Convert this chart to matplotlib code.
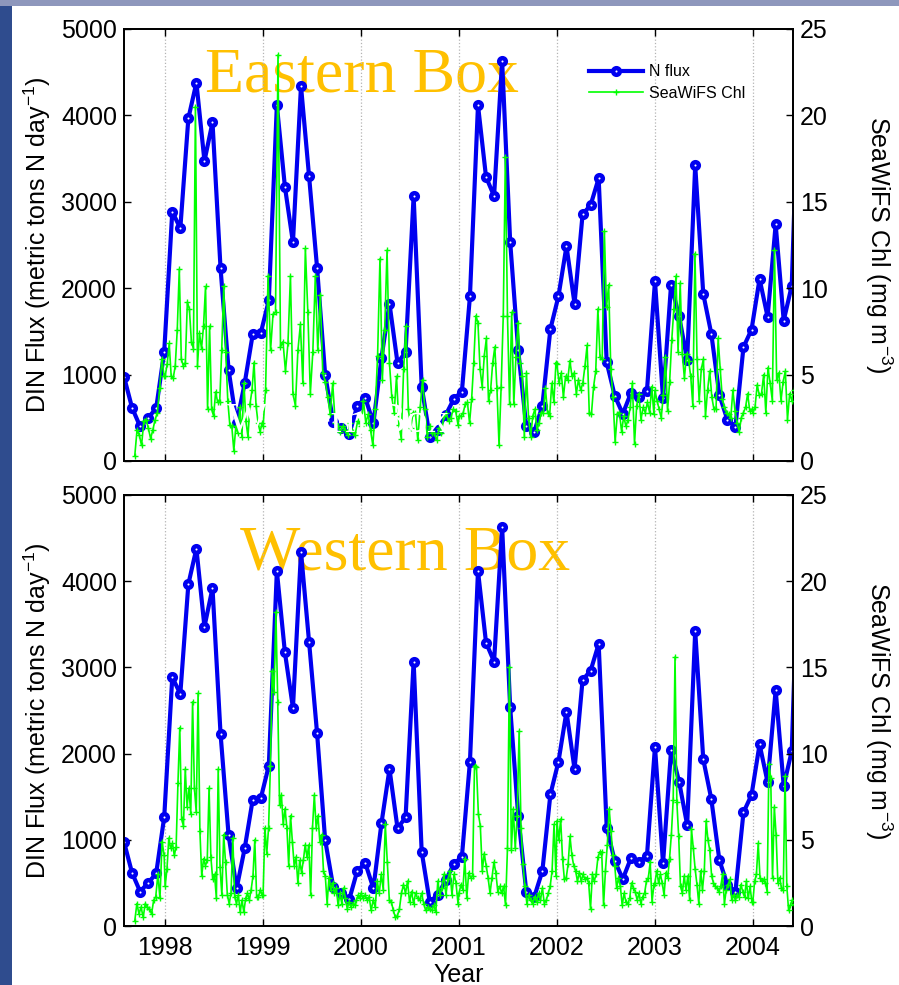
import numpy as np
import matplotlib
matplotlib.use("Agg")
import matplotlib.pyplot as plt
from matplotlib.patches import Rectangle
from matplotlib.lines import Line2D

plt.rcParams['font.family'] = ['Liberation Sans', 'DejaVu Sans']
plt.rcParams['mathtext.fontset'] = 'custom'
plt.rcParams['mathtext.rm'] = 'Liberation Sans'
plt.rcParams['mathtext.it'] = 'Liberation Sans:italic'
plt.rcParams['mathtext.bf'] = 'Liberation Sans:bold'

# ---------------- data ----------------
# Monthly-ish (30-day) DIN flux, metric tons N / day, starting Aug 1997
nflux_start = 1997.58
nflux_step_days = 30.0
nflux = [975, 617, 400, 500, 610, 1265, 2886, 2693, 3966, 4379, 3472, 3920,
         2230, 1053, 437, 900, 1467, 1481, 1860, 4118, 3175, 2530, 4340, 3300,
         2236, 1000, 456, 379, 309, 642, 727, 437, 1191, 1821, 1133, 1261,
         3067, 862, 282, 360, 534, 719, 804, 1906, 4118, 3287, 3067, 4633,
         2537, 1280, 400, 340, 638, 1527, 1906, 2487, 1821, 2854, 2962, 3272,
         1141, 754, 545, 785, 746, 812, 2080, 727, 2042, 1674, 1172, 3422,
         1934, 1473, 766, 476, 398, 1319, 1520, 2108, 1667, 2738, 1625, 2030,
         4900]

# SeaWiFS chlorophyll (mg m-3), Eastern box, by year
east_1997 = [0.3, 1.8, 1.5, 0.9, 2.3, 2.4, 1.9, 1.3, 1.8, 2.4, 2.8, 4.2, 5.9, 4.9]
east_1998 = [4.9, 5.6, 6.8, 4.9, 4.8, 5.5, 7.6, 11.1, 5.9, 5.5, 5.7, 9.2, 8.8, 6.9,
             6.5, 20.5, 5.5, 7.4, 6.5, 7.8, 10.1, 3.0, 7.8, 3.0, 2.6, 4.0, 3.4, 3.4,
             6.4, 10.1, 6.3, 3.5, 2.1, 2.0, 0.6, 2.0, 1.6, 3.1, 1.4, 4.5, 2.3, 1.4,
             3.3, 4.1, 5.7, 3.2, 2.2, 1.7, 2.2]
east_1999 = [2.0, 4.1, 10.7, 6.4, 8.5, 8.6, 23.5, 6.6, 6.9, 5.2, 6.8, 10.7, 3.9, 3.2,
             6.4, 7.9, 4.5, 12.3, 8.6, 3.9, 6.3, 10.7, 6.4, 9.6, 5.1, 4.6, 3.7, 2.7,
             4.5, 2.2, 2.0, 1.7, 2.0, 1.8, 1.5, 2.2, 1.7, 1.5, 2.3, 2.2]
east_2000 = [2.0, 3.5, 2.2, 2.7, 1.8, 0.9, 3.0, 6.1, 11.7, 4.7, 7.6, 12.2, 5.7, 3.7,
             2.8, 4.9, 2.1, 1.3, 5.3, 7.8, 3.0, 1.9, 2.8, 2.8, 1.2, 3.1, 4.7, 3.0,
             1.4, 2.0, 1.6, 1.6, 1.2, 1.9, 1.6, 2.6, 2.8, 2.3, 2.5, 3.0, 2.9, 2.1]
east_2001 = [2.6, 2.6, 2.8, 3.3, 3.4, 2.2, 3.6, 5.7, 8.4, 8.0, 5.3, 4.3, 6.1, 7.1,
             3.5, 4.1, 5.7, 6.6, 4.2, 0.9, 4.3, 8.4, 17.6, 8.4, 3.3, 8.6, 3.3, 6.0,
             8.0, 5.7, 4.9, 1.4, 5.1, 2.5, 1.4, 2.6, 3.0, 1.8, 2.2, 2.8, 2.8, 4.2,
             2.8, 2.6, 4.5, 3.4, 5.7]
east_2002 = [5.6, 4.5, 5.1, 3.7, 4.9, 4.7, 5.8, 4.9, 5.1, 3.9, 4.7, 4.1, 4.5, 5.5,
             6.7, 2.8, 2.7, 4.3, 5.2, 8.8, 6.0, 5.9, 13.3, 8.9, 10.2, 5.3, 3.7, 1.1,
             2.7, 2.8, 1.7, 2.6, 2.0, 2.4, 3.1, 4.5, 1.0, 3.2, 3.9, 2.4, 3.1, 2.8,
             3.4, 2.8, 4.3, 2.7]
east_2003 = [4.1, 3.5, 3.0, 2.5, 3.8, 6.0, 2.9, 4.6, 7.0, 8.8, 10.7, 6.3, 10.3, 6.2,
             4.8, 6.2, 5.8, 4.9, 3.2, 12.0, 5.9, 3.5, 5.3, 5.9, 2.6, 4.1, 5.2, 3.7,
             3.0, 3.0, 7.1, 5.3, 3.6, 3.1, 2.8, 2.7, 2.5, 4.1, 2.9, 2.2, 1.7, 2.5,
             2.8, 3.1, 3.9, 2.9, 3.0]
east_2004 = [2.8, 3.1, 4.4, 3.8, 3.9, 5.0, 2.8, 5.4, 4.5, 3.5, 12.2, 4.7, 5.1, 3.5,
             4.6, 5.2, 2.4, 3.9, 3.5, 4.1]

# SeaWiFS chlorophyll (mg m-3), Western box, by year
west_1997 = [0.3, 1.3, 0.7, 1.1, 0.5, 1.3, 1.1, 1.0, 0.7, 1.5, 1.7, 3.0, 1.6, 4.9, 4.1]
west_1998 = [2.3, 3.3, 5.1, 4.5, 4.8, 4.1, 4.6, 8.3, 11.5, 6.2, 5.8, 9.1, 6.9, 8.0,
             6.5, 13.0, 8.0, 6.6, 13.5, 5.5, 2.9, 3.9, 3.5, 3.8, 8.0, 4.0, 2.7, 3.0,
             1.6, 9.1, 3.4, 1.8, 5.3, 3.7, 1.8, 1.3, 1.9, 5.1, 1.7, 1.3, 1.8, 0.8,
             1.5, 0.8, 1.6, 1.9, 1.5, 2.1, 2.9, 5.0, 1.7, 1.7, 2.1, 1.8]
west_1999 = [1.8, 5.7, 4.2, 5.7, 9.3, 14.8, 13.6, 18.2, 13.0, 7.0, 7.6, 5.9, 6.8, 5.7,
             3.5, 6.4, 4.9, 3.5, 4.0, 2.5, 3.8, 3.1, 3.8, 4.7, 4.0, 4.7, 1.8, 5.7,
             7.6, 5.7, 6.4, 4.9, 5.3, 3.2, 2.9, 1.3, 2.8, 2.1, 2.5, 1.9, 2.2, 1.2,
             1.9, 1.3, 2.2, 1.6, 1.0, 1.4, 1.1, 1.3, 1.2, 1.5, 1.8, 1.6]
west_2000 = [1.9, 1.6, 1.8, 1.5, 1.7, 0.9, 1.5, 1.1, 2.6, 1.9, 3.0, 2.1, 5.9, 3.7,
             1.5, 1.4, 0.9, 0.5, 0.6, 1.0, 1.9, 2.4, 1.9, 2.6, 1.4, 2.0, 1.3, 1.9,
             1.6, 1.5, 1.9, 1.3, 0.9, 1.1, 1.0, 0.9, 1.2, 0.8, 2.6, 1.8, 2.2, 3.0,
             1.8, 2.7, 3.2, 1.8, 3.0, 2.5, 1.3]
west_2001 = [1.9, 2.4, 2.1, 3.9, 1.6, 3.1, 2.8, 2.9, 9.3, 9.2, 6.5, 5.8, 3.2, 4.2,
             3.5, 2.8, 1.9, 2.8, 3.7, 3.1, 2.0, 2.3, 1.9, 2.3, 1.2, 4.5, 15.0, 4.4,
             6.8, 4.5, 6.4, 11.3, 5.7, 3.6, 2.3, 1.3, 1.8, 1.5, 1.3, 1.7, 1.4, 1.9,
             1.5, 2.2, 1.3, 1.5, 1.9, 2.3, 3.2, 5.9, 2.9]
west_2002 = [6.1, 5.0, 6.2, 3.9, 2.7, 2.8, 3.6, 5.2, 4.1, 3.5, 3.2, 2.6, 3.1, 2.6,
             3.0, 2.7, 2.8, 2.5, 1.0, 3.0, 2.6, 3.0, 4.0, 4.3, 4.3, 1.2, 3.2, 4.7,
             6.8, 5.5, 4.1, 3.5, 2.2, 2.8, 2.3, 1.2, 1.9, 1.4, 1.3, 1.6, 2.5, 2.2,
             2.0, 1.5, 1.9, 1.3, 1.7, 1.9, 2.6, 2.8, 3.7, 1.4, 2.4]
west_2003 = [2.5, 3.2, 2.5, 3.0, 2.5, 1.8, 3.1, 2.8, 3.9, 5.3, 7.3, 15.6, 7.2, 5.2,
             2.3, 1.9, 2.9, 2.1, 2.9, 1.5, 5.6, 4.5, 3.3, 2.4, 1.3, 3.2, 2.1, 3.2,
             6.1, 5.0, 4.4, 2.9, 2.5, 2.3, 2.2, 2.0, 2.3, 3.0, 1.3, 2.1, 2.4, 2.7,
             1.5, 1.8, 1.5, 1.8, 1.7, 2.4, 2.0, 1.7, 2.6, 1.6, 2.3, 1.4]
west_2004 = [1.4, 2.6, 3.0, 4.8, 2.8, 2.6, 2.7, 2.5, 2.0, 9.4, 8.6, 2.8, 6.9, 5.3,
             2.5, 2.8, 2.2, 2.1, 8.7, 2.3, 0.9, 1.2, 1.5, 1.3]

# time span covered by each yearly chlorophyll list (decimal years)
chl_spans = [(1997.69, 1997.99), (1998.0, 1998.99), (1999.0, 1999.99),
             (2000.0, 2000.99), (2001.0, 2001.99), (2002.0, 2002.99),
             (2003.0, 2003.99), (2004.0, 2004.42)]

year_ticks = [1998, 1999, 2000, 2001, 2002, 2003, 2004]
flux_ticks = [0, 1000, 2000, 3000, 4000, 5000]
chl_ticks = [0, 5, 10, 15, 20, 25]
panel_titles = ["Eastern Box", "Western Box"]


def chl_series(lists):
    t, v = [], []
    for (a, b), vals in zip(chl_spans, lists):
        t.extend(np.linspace(a, b, len(vals)))
        v.extend(vals)
    return np.array(t), np.array(v)


east = chl_series([east_1997, east_1998, east_1999, east_2000, east_2001,
                   east_2002, east_2003, east_2004])
west = chl_series([west_1997, west_1998, west_1999, west_2000, west_2001,
                   west_2002, west_2003, west_2004])
t_flux = nflux_start + np.arange(len(nflux)) * nflux_step_days / 365.25

# ---------------- figure ----------------
W, H = 899, 985
fig = plt.figure(figsize=(W / 100, H / 100), dpi=100)
fig.patch.set_facecolor('#2F4C8E')
fig.patches.append(Rectangle((0, 1 - 6 / H), 1, 6 / H, transform=fig.transFigure,
                             facecolor='#8E97BC', edgecolor='none', zorder=-10))
fig.patches.append(Rectangle((12 / W, 0), 1 - 12 / W, 1 - 6 / H, transform=fig.transFigure,
                             facecolor='white', edgecolor='none', zorder=-9))

BLUE = '#0000F0'
GREEN = '#00FF00'
FS = 18
MK = dict(marker='o', ms=4.8, mew=3.2, mfc='white', mec=BLUE)

panels = [
    dict(box=(124, 29, 793, 461), chl=east, title=panel_titles[0],
         tpos=((205 - 124) / 669, (461 - 92) / 432), xlabels=False),
    dict(box=(124, 495, 793, 926), chl=west, title=panel_titles[1],
         tpos=((240 - 124) / 669, (926 - 570) / 431), xlabels=True),
]

for i, p in enumerate(panels):
    x0, y0, x1, y1 = p['box']
    ax = fig.add_axes([x0 / W, 1 - y1 / H, (x1 - x0) / W, (y1 - y0) / H])
    ax.set_facecolor('none')
    ax.plot(t_flux, nflux, color=BLUE, lw=3.0, zorder=3, label='N flux', **MK)
    ax.set_xlim(1997.58, 2004.41)
    ax.set_ylim(0, 5000)
    ax.set_yticks(flux_ticks)
    ax.set_xticks(year_ticks)
    ax.grid(axis='x', linestyle=':', color='#B4B4B4', linewidth=0.9, zorder=0)
    ax.tick_params(axis='both', direction='in', length=5, width=1.0,
                   labelsize=FS, top=True, right=False, pad=5)
    ax.tick_params(axis='x', pad=7)
    if p['xlabels']:
        ax.set_xticklabels([str(y) for y in year_ticks])
        ax.set_xlabel('Year', fontsize=FS, labelpad=2)
    else:
        ax.set_xticklabels([])
    ax.set_ylabel(r'DIN Flux (metric tons N day$^{-1}$)', fontsize=FS, labelpad=6)
    for s in ax.spines.values():
        s.set_linewidth(1.3)

    ax.text(p['tpos'][0], p['tpos'][1], p['title'], transform=ax.transAxes,
            fontsize=46, color='#FFC000', family='Liberation Serif',
            ha='left', va='baseline', zorder=1)

    ax2 = ax.twinx()
    t_c, v_c = p['chl']
    ax2.plot(t_c, v_c, color=GREEN, lw=1.2, marker='+', ms=4.5, mew=1.0,
             zorder=3, label='SeaWiFS Chl')
    ax2.set_ylim(0, 25)
    ax2.set_yticks(chl_ticks)
    ax2.tick_params(axis='y', direction='in', length=5, width=1.0,
                    labelsize=FS, pad=5)
    ax2.set_ylabel(r'SeaWiFS Chl (mg m$^{-3}$)', fontsize=FS, rotation=270,
                   labelpad=48)
    for s in ax2.spines.values():
        s.set_linewidth(1.3)

    if i == 0:
        ax2.text((227 - 124) / 669, (461 - 432) / 432, 'Western Box',
                 transform=ax2.transAxes, fontsize=31, color='white',
                 family='Liberation Serif', ha='left', va='baseline', zorder=10)
        h1 = Line2D([], [], color=BLUE, lw=3.0, **MK)
        h2 = Line2D([], [], color=GREEN, lw=1.2, marker='+', ms=4.5, mew=1.0)
        ax2.legend([h1, h2], ['N flux', 'SeaWiFS Chl'], loc='upper right',
                   bbox_to_anchor=((752 - 124) / 669, (461 - 58) / 432),
                   frameon=False, fontsize=11.5, handlelength=3.4,
                   handletextpad=0.4, labelspacing=0.4, borderaxespad=0)

fig.savefig('out.png', dpi=100, facecolor=fig.get_facecolor())
